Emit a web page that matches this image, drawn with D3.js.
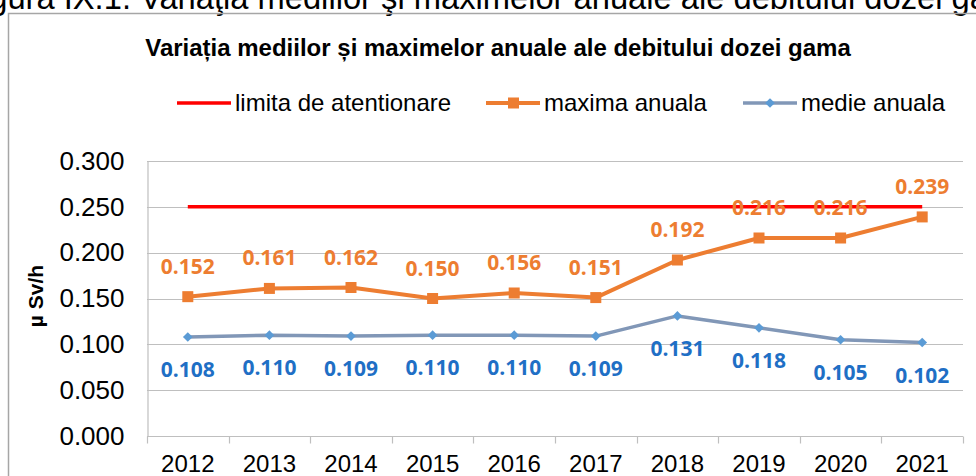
<!DOCTYPE html>
<html>
<head>
<meta charset="utf-8">
<script src="https://cdn.jsdelivr.net/npm/d3@7"></script>
<style>
  html, body { margin: 0; padding: 0; background: #fff; overflow: hidden; }
  svg { display: block; font-family: "Liberation Sans", Arial, sans-serif; }
</style>
</head>
<body>
<div id="chart"></div>
<script>
// values
const years = ['2012', '2013', '2014', '2015', '2016', '2017', '2018', '2019', '2020', '2021'];
const maxima = [0.152, 0.161, 0.162, 0.150, 0.156, 0.151, 0.192, 0.216, 0.216, 0.239];
const medie = [0.108, 0.110, 0.109, 0.110, 0.110, 0.109, 0.131, 0.118, 0.105, 0.102];
const limita = [0.25, 0.25, 0.25, 0.25, 0.25, 0.25, 0.25, 0.25, 0.25, 0.25];
const yTicks = [0, 0.05, 0.1, 0.15, 0.2, 0.25, 0.3];
const seriesNames = ['limita de atentionare', 'maxima anuala', 'medie anuala'];

const width = 976, height = 476;
const margin = { top: 161, right: 13, bottom: 40, left: 147 };

const svg = d3.select('#chart').append('svg')
    .attr('width', width)
    .attr('height', height);

// caption of the figure, cut at the top of the page
svg.append('text')
    .attr('x', -38)
    .attr('y', 9)
    .style('font-size', '32.7px')
    .style('fill', '#000')
    .text('Figura IX.1. Variaţia mediilor şi maximelor anuale ale debitului dozei gama');

// chart frame
svg.append('path')
    .attr('d', 'M8.5,' + height + 'V13.5H' + width)
    .attr('fill', 'none')
    .attr('stroke', '#a6a6a6')
    .attr('stroke-width', 1.5);

// title
svg.append('text')
    .attr('x', 498)
    .attr('y', 56)
    .attr('text-anchor', 'middle')
    .style('font-size', '24px')
    .style('font-weight', 'bold')
    .text('Variația mediilor și maximelor anuale ale debitului dozei gama');

const x = d3.scaleBand()
    .domain(years)
    .range([margin.left, width - margin.right])
    .padding(0);

const y = d3.scaleLinear()
    .domain([0, 0.3])
    .range([height - margin.bottom, margin.top]);

const cx = d => x(d) + x.bandwidth() / 2;

// gridlines
svg.append('g')
    .selectAll('line')
    .data(yTicks.filter(d => d > 0))
    .join('line')
    .attr('x1', margin.left)
    .attr('x2', width - margin.right)
    .attr('y1', d => Math.round(y(d)) + 0.5)
    .attr('y2', d => Math.round(y(d)) + 0.5)
    .attr('stroke', '#bfbfbf')
    .attr('stroke-width', 1.2);

// y axis
const yAxis = svg.append('g')
    .attr('transform', 'translate(' + (margin.left + 0.5) + ',0)')
    .call(d3.axisLeft(y).tickValues(yTicks).tickFormat(d3.format('.3f')).tickSize(0).tickPadding(23));
yAxis.select('.domain').attr('stroke', '#bfbfbf').attr('stroke-width', 1.2);
yAxis.selectAll('text')
    .style('font-family', '"Liberation Sans", Arial, sans-serif')
    .style('font-size', '26px')
    .attr('fill', '#000');

// x axis: ticks on the category borders
const xAxisY = Math.round(y(0)) + 0.5;
svg.append('line')
    .attr('x1', margin.left).attr('x2', width - margin.right)
    .attr('y1', xAxisY).attr('y2', xAxisY)
    .attr('stroke', '#bfbfbf').attr('stroke-width', 1.2);
svg.append('g')
    .selectAll('line')
    .data(years.concat(['end']))
    .join('line')
    .attr('x1', (d, i) => Math.round(margin.left + i * x.bandwidth()) + 0.5)
    .attr('x2', (d, i) => Math.round(margin.left + i * x.bandwidth()) + 0.5)
    .attr('y1', xAxisY)
    .attr('y2', xAxisY + 7)
    .attr('stroke', '#bfbfbf').attr('stroke-width', 1.2);
svg.append('g')
    .selectAll('text')
    .data(years)
    .join('text')
    .attr('x', d => cx(d))
    .attr('y', 472)
    .attr('text-anchor', 'middle')
    .style('font-size', '24px')
    .text(d => d);

// y axis title
svg.append('text')
    .attr('transform', 'translate(43,296) rotate(-90)')
    .attr('text-anchor', 'middle')
    .style('font-size', '21px')
    .style('font-weight', 'bold')
    .text('µ Sv/h');

// series
const line = d3.line()
    .x((d, i) => cx(years[i]))
    .y(d => y(d));

svg.append('path')
    .datum(limita)
    .attr('d', line)
    .attr('fill', 'none')
    .attr('stroke', '#ff0000')
    .attr('stroke-width', 3.5);

svg.append('path')
    .datum(medie)
    .attr('d', line)
    .attr('fill', 'none')
    .attr('stroke', '#8197b7')
    .attr('stroke-width', 3.5)
    .attr('stroke-linejoin', 'round');

svg.append('g')
    .selectAll('path')
    .data(medie)
    .join('path')
    .attr('d', d3.symbol(d3.symbolDiamond2, 60))
    .attr('transform', (d, i) => 'translate(' + cx(years[i]) + ',' + y(d) + ')')
    .attr('fill', '#5b9bd5');

svg.append('path')
    .datum(maxima)
    .attr('d', line)
    .attr('fill', 'none')
    .attr('stroke', '#ed7d31')
    .attr('stroke-width', 4)
    .attr('stroke-linejoin', 'round');

svg.append('g')
    .selectAll('rect')
    .data(maxima)
    .join('rect')
    .attr('x', (d, i) => cx(years[i]) - 5.5)
    .attr('y', d => y(d) - 5.5)
    .attr('width', 11)
    .attr('height', 11)
    .attr('fill', '#ed7d31');

// data labels
const fmt = d3.format('.3f');
const labelFont = '"Open Sans", "Noto Sans", sans-serif';

svg.append('g')
    .selectAll('text')
    .data(maxima)
    .join('text')
    .attr('x', (d, i) => cx(years[i]))
    .attr('y', d => y(d) - 23)
    .attr('text-anchor', 'middle')
    .style('font-family', labelFont)
    .style('font-size', '21px')
    .style('font-weight', 'bold')
    .style('fill', '#ed7d31')
    .text(d => fmt(d));

svg.append('g')
    .selectAll('text')
    .data(medie)
    .join('text')
    .attr('x', (d, i) => cx(years[i]))
    .attr('y', d => y(d) + 40)
    .attr('text-anchor', 'middle')
    .style('font-family', labelFont)
    .style('font-size', '21px')
    .style('font-weight', 'bold')
    .style('fill', '#1f6fc5')
    .text(d => fmt(d));

// legend
const legendItems = [
    { name: seriesNames[0], x: 177, color: '#ff0000', marker: null },
    { name: seriesNames[1], x: 486, color: '#ed7d31', marker: 'square' },
    { name: seriesNames[2], x: 743, color: '#8197b7', marker: 'diamond' }
];
const legend = svg.append('g')
    .selectAll('g')
    .data(legendItems)
    .join('g')
    .attr('transform', d => 'translate(' + d.x + ',103)');
legend.append('line')
    .attr('x1', 0).attr('x2', 54)
    .attr('stroke', d => d.color)
    .attr('stroke-width', d => d.marker === 'square' ? 4 : 3.5);
legend.filter(d => d.marker === 'square').append('rect')
    .attr('x', 22).attr('y', -5.5).attr('width', 11).attr('height', 11)
    .attr('fill', '#ed7d31');
legend.filter(d => d.marker === 'diamond').append('path')
    .attr('d', d3.symbol(d3.symbolDiamond2, 60))
    .attr('transform', 'translate(27,0)')
    .attr('fill', '#5b9bd5');
legend.append('text')
    .attr('x', 58)
    .attr('y', 8)
    .style('font-size', '24px')
    .text(d => d.name);
</script>
</body>
</html>
